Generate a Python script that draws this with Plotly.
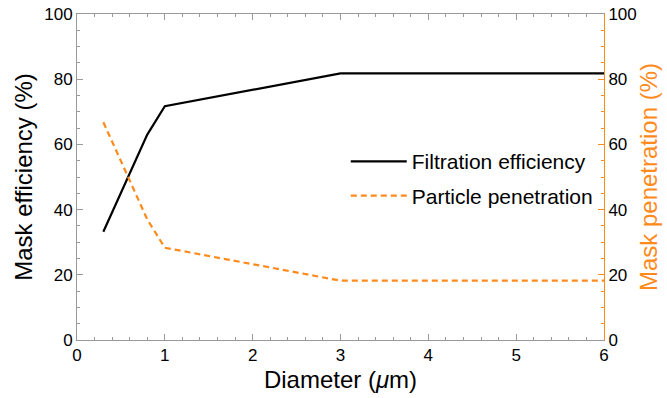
import plotly.graph_objects as go

diameter = [0.3, 0.8, 1.0, 3.0, 6.0]
efficiency = [33.2, 63.0, 71.7, 81.8, 81.8]
penetration = [66.8, 37.0, 28.3, 18.2, 18.2]

orange = "#ff8a1c"
grey = "#999999"
font = "Liberation Sans, Arial, sans-serif"

fig = go.Figure()
fig.add_trace(go.Scatter(x=diameter, y=efficiency, mode="lines", name="Filtration efficiency",
                         legendgroup="a", line=dict(color="black", width=2.2)))
fig.add_trace(go.Scatter(x=diameter, y=penetration, mode="lines", name="Particle penetration",
                         legendgroup="b", line=dict(color=orange, width=2.2, dash="6px,4px"), yaxis="y2"))

fig.update_layout(
    width=667, height=398,
    margin=dict(l=77, r=63, t=14, b=58),
    plot_bgcolor="white", paper_bgcolor="white",
    font=dict(family=font, size=17, color="black"),
    showlegend=True,
    legend=dict(x=0.51, y=0.61, xanchor="left", yanchor="top", bgcolor="rgba(0,0,0,0)",
                font=dict(size=21, family=font), tracegroupgap=4, itemwidth=56),
    xaxis=dict(range=[0, 6], dtick=1, showline=True, linecolor=grey, linewidth=1, mirror="ticks",
               ticks="inside", ticklen=6, tickcolor=grey, showgrid=False, zeroline=False,
               automargin=False,
               minor=dict(ticks="inside", dtick=0.2, ticklen=3, tickcolor=grey),
               title=dict(text="Diameter (<i>μ</i>m)", font=dict(size=24), standoff=6),
               tickfont=dict(size=17)),
    yaxis=dict(range=[0, 100], dtick=20, showline=True, linecolor=grey, linewidth=1,
               ticks="inside", ticklen=6, tickcolor=grey, showgrid=False, zeroline=False,
               automargin=False,
               minor=dict(ticks="inside", dtick=5, ticklen=3, tickcolor=grey),
               title=dict(text="Mask efficiency (%)", font=dict(size=24), standoff=4),
               tickfont=dict(size=17)),
    yaxis2=dict(range=[0, 100], dtick=20, overlaying="y", side="right", showline=True,
                linecolor=orange, linewidth=1, ticks="inside", ticklen=6, tickcolor=orange,
                showgrid=False, zeroline=False, automargin=False,
                minor=dict(ticks="inside", dtick=5, ticklen=3, tickcolor=orange),
                title=dict(text="Mask penetration (%)", font=dict(size=24, color=orange), standoff=4),
                tickfont=dict(size=17, color="black")),
)

fig.write_html("out.html")
